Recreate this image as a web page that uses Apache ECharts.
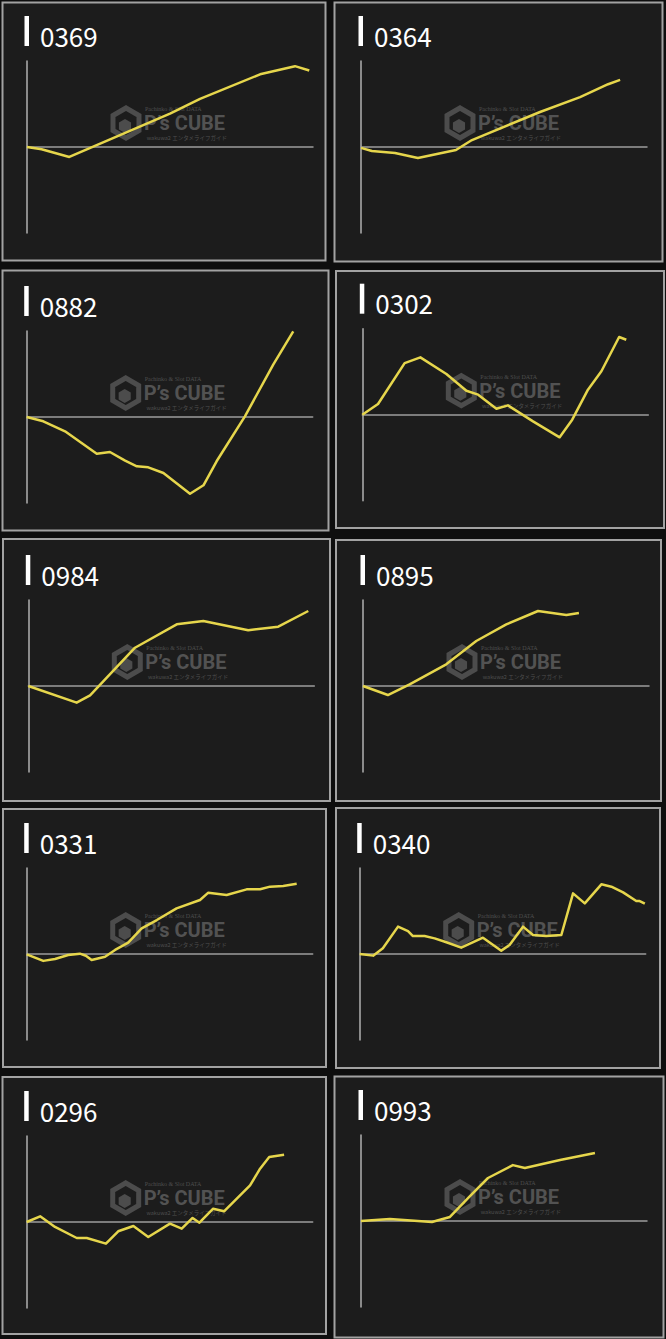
<!DOCTYPE html>
<html>
<head>
<meta charset="utf-8">
<script src="https://cdn.jsdelivr.net/npm/echarts@6/dist/echarts.min.js"></script>
<style>
html,body{margin:0;padding:0;background:#0e0e0e;}
#c{width:666px;height:1339px;}
</style>
</head>
<body>
<div id="c"></div>
<script>
// ---- data: panel titles and line vertices [progress %, value % of half-axis] ----
const titles = ['0369','0364','0882','0302','0984','0895','0331','0340','0296','0993'];

const d0369 = [[0,0],[5.1,-2.7],[14.8,-11.6],[50,38.8],[60.5,56],[81.5,84.5],[93.7,94],[98.7,89]];
const d0364 = [[0,-1],[3.8,-4.7],[11.9,-7],[19.9,-12.8],[33.2,-3.5],[38.8,8.1],[62.6,40.7],[76.6,58],[86.4,73],[90.6,78]];
const d0882 = [[0,0],[5.8,-5],[13.4,-16.6],[24.5,-42.7],[29.1,-40.7],[34.4,-50.8],[38.5,-57.4],[42.5,-58.5],[47.8,-65.1],[57.1,-89.2],[61.8,-79.4],[66.4,-51.5],[76.3,0.8],[86.2,60.8],[93.2,99.6]];
const d0302 = [[0,0],[5.5,12.4],[14.8,60],[20.3,66.7],[29.4,47.3],[36.4,27.9],[40.5,23.3],[46.9,7],[50.9,10.9],[59.7,-7.7],[69,-26.3],[73.4,-5.8],[78.9,29.1],[83.6,50.5],[89.8,90.3],[92.3,87.2]];
const d0984 = [[0,0],[16.9,-19.4],[21.6,-10.8],[37.3,44.5],[51.9,71.7],[61.2,75.6],[76.9,64.8],[87.4,69],[97.9,87.2]];
const d0895 = [[0,0],[8.7,-10.5],[16.3,2],[29.1,25.2],[39.6,52.3],[50.1,71.7],[61.2,87.2],[71.1,82.6],[75.5,84.9]];
const d0331 = [[0,-0.4],[5.8,-8],[9.9,-5.8],[14.5,-1.2],[18.6,0.4],[20.7,-2],[22.7,-7],[27.4,-3.1],[30.9,4.7],[35.5,13.2],[40.2,29.8],[45.5,39.5],[52.4,53.1],[60.6,62.8],[63.5,71.3],[69.9,68.6],[76.9,75.2],[81.6,75.2],[85.1,78.3],[89.7,79.1],[94.4,81.8]];
const d0340 = [[0,0],[4.7,-1.9],[8.1,6.6],[13.4,31.8],[16.9,26.7],[18.6,20.9],[22.7,20.9],[26.2,18.2],[30.3,13.6],[35.5,7.4],[43.1,19],[49.5,3.9],[52.4,10.5],[57.1,31.8],[60.6,22.1],[65.2,20.9],[70.5,22.1],[74.6,70.5],[78.7,58.9],[84.5,81],[88,78.3],[92.1,71.7],[96.7,61.6],[97.9,61.6],[99.7,58.5]];
const d0296 = [[0,0],[4.7,6.6],[9.9,-5.8],[17.5,-18.6],[21,-18.6],[27.7,-25.2],[32,-10.8],[37.3,-4.7],[42.5,-17.4],[50.1,-1.9],[54.2,-7.7],[58,4.7],[60.4,-0.8],[65.2,15.5],[69,12.4],[78.1,42.6],[81.6,62],[84.8,75.6],[90,78.3]];
const d0993 = [[0,0],[10.1,2.3],[24.8,-1.2],[31.1,4.7],[38.1,29],[44.4,50],[53.1,65],[57.3,61.6],[69.6,70.9],[81.8,79]];

const seriesData = [d0369,d0364,d0882,d0302,d0984,d0895,d0331,d0340,d0296,d0993];

// ---- layout (positions only) ----
const axisX = [27,361,26.7,362.3,28.3,363,26.7,359.7,26.7,361];
const zeroY = [147,147,417,414.7,686,686,954,954,1222,1221];
const panels = [
  [2.5,2.5,323,258],[334.5,2.5,328,259],
  [2.5,270.5,326,260],[336,271,328,257],
  [3,539,327,262],[336,540,325,261],
  [3,809,323,258],[336,808,324,260],
  [2.5,1077,323.5,257],[334.5,1076.5,329,261]
];
const PW = 286, PH = 172;

const chart = echarts.init(document.getElementById('c'), null, {renderer:'svg'});

const grids = [], xAxes = [], yAxes = [], series = [], graphics = [];

function hexPoints(cx, cy, r){
  const pts = [];
  for(let k=0;k<6;k++){
    const a = Math.PI/180*(60*k-90);
    pts.push([cx + r*Math.cos(a), cy + r*Math.sin(a)]);
  }
  return pts;
}

titles.forEach((t,i)=>{
  const ax = axisX[i], zy = zeroY[i], p = panels[i];
  grids.push({left:ax, top:zy-86, width:PW, height:PH});
  xAxes.push({gridIndex:i, type:'value', min:0, max:100, z:2,
    axisLine:{show:true, onZero:true, lineStyle:{color:'#9c9c9c', width:1.5}},
    axisTick:{show:false}, axisLabel:{show:false}, splitLine:{show:false}});
  yAxes.push({gridIndex:i, type:'value', min:-100, max:100, z:2,
    axisLine:{show:true, onZero:false, lineStyle:{color:'#b0b0b0', width:1.5}},
    axisTick:{show:false}, axisLabel:{show:false}, splitLine:{show:false}});
  series.push({type:'line', xAxisIndex:i, yAxisIndex:i, data:seriesData[i],
    showSymbol:false, symbol:'none', silent:true, z:5, clip:false,
    lineStyle:{color:'#e6d64c', width:2.5, join:'round'}});

  // panel box
  graphics.push({type:'rect', z:0, silent:true,
    shape:{x:p[0], y:p[1], width:p[2], height:p[3]},
    style:{fill:'#1c1c1c', stroke:'#a2a2a2', lineWidth:2}});
  // title bar + text
  graphics.push({type:'rect', z:1, silent:true,
    shape:{x:ax-2.5, y:zy-131, width:4.5, height:30},
    style:{fill:'#ffffff'}});
  graphics.push({type:'text', z:1, silent:true, x:ax+13, y:zy-112,
    style:{text:t, fill:'#ffffff', fontSize:26, fontFamily:'"Noto Sans CJK JP", "Noto Sans", sans-serif',
      textVerticalAlign:'middle', verticalAlign:'middle', textAlign:'left', align:'left'}});
  // watermark
  const wc = '#4c4c4c';
  graphics.push({type:'polygon', z:1, silent:true,
    shape:{points:hexPoints(ax+99, zy-24, 15)},
    style:{fill:'none', stroke:wc, lineWidth:5}});
  graphics.push({type:'polygon', z:1, silent:true,
    shape:{points:hexPoints(ax+98, zy-21, 7)},
    style:{fill:wc}});
  graphics.push({type:'text', z:1, silent:true, x:ax+117, y:zy-24,
    style:{text:"P’s CUBE", fill:'#525252', fontSize:20, fontWeight:'bold', fontFamily:'Roboto, sans-serif',
      textVerticalAlign:'middle', verticalAlign:'middle', align:'left'}});
  graphics.push({type:'text', z:1, silent:true, x:ax+118, y:zy-38,
    style:{text:'Pachinko & Slot DATA', fill:'#4e4e4e', fontSize:6, fontFamily:'"Liberation Serif", serif',
      verticalAlign:'middle', textVerticalAlign:'middle', align:'left'}});
  graphics.push({type:'text', z:1, silent:true, x:ax+200, y:zy-9,
    style:{text:'wakuwa2 エンタメライフガイド', fill:'#4e4e4e', fontSize:5.5, fontFamily:'"Noto Sans CJK JP", serif',
      verticalAlign:'middle', textVerticalAlign:'middle', align:'right', textAlign:'right'}});
});

chart.setOption({
  backgroundColor:'#0e0e0e',
  animation:false,
  grid:grids, xAxis:xAxes, yAxis:yAxes, series:series,
  graphic:{elements:graphics}
});
</script>
</body>
</html>
